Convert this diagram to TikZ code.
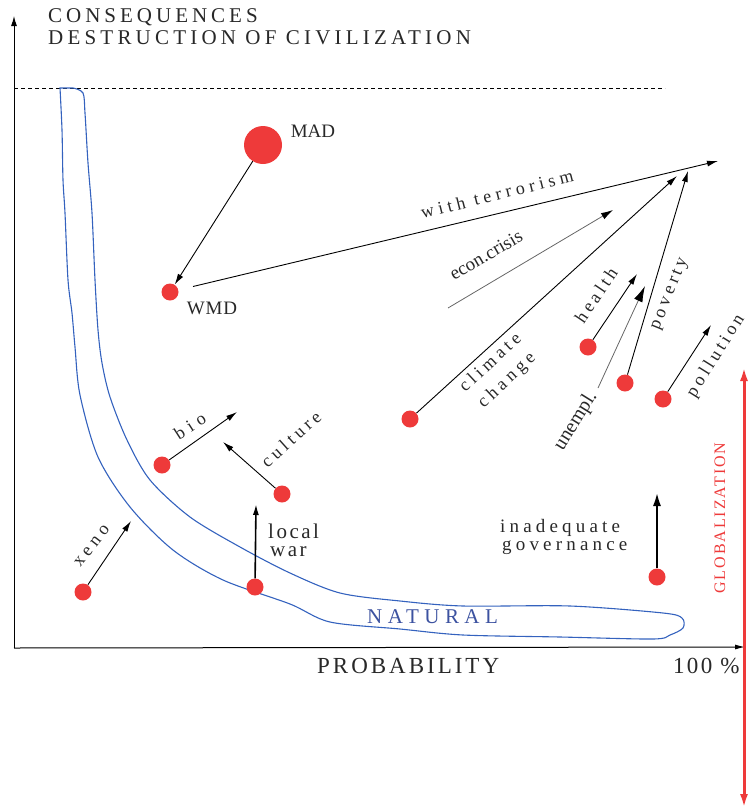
\documentclass[tikz,border=0pt]{standalone}
\usepackage{fontspec}
\setmainfont{Liberation Serif}
\usepackage{xcolor}
\usepackage{tikz}
\usetikzlibrary{arrows.meta}

\definecolor{dotred}{RGB}{238,58,58}
\definecolor{curveblue}{RGB}{52,98,190}
\definecolor{natblue}{RGB}{60,82,160}
\definecolor{inkgray}{RGB}{40,40,40}

% letter spaced text
\newcommand{\spaced}[2]{{\addfontfeature{LetterSpace=#1}#2}}

\tikzset{
    riskdot/.style={circle, fill=dotred, inner sep=0pt, minimum size=17pt},
    lbl/.style={font=\fontsize{18}{22}\selectfont, text=inkgray, inner sep=0pt},
    riskarrow/.style={-{Latex[length=11pt,width=6pt]}, line width=0.9pt},
}

\begin{document}
\begin{tikzpicture}[x=1pt, y=-1pt]
        \useasboundingbox (0,0) rectangle (750,809);

        % Axes
        \coordinate (origin) at (14,648);
        \coordinate (ytip) at (14,16);
        \coordinate (xtip) at (745,647);
        \draw[-{Latex[length=10pt,width=6pt]}, line width=1pt] (origin) -- (ytip);
        \draw[-{Latex[length=10pt,width=5pt]}, line width=1pt] (origin) -- (xtip);

        % Header
        \node[lbl, anchor=base west, font=\fontsize{21}{24}\selectfont] (conseq) at (48,22) {\spaced{19}{CONSEQUENCES}};
        \node[lbl, anchor=base west, font=\fontsize{21}{24}\selectfont] (destr) at (48,44) {\spaced{20}{DESTRUCTION OF CIVILIZATION}};

        % Upper limit
        \coordinate (limitL) at (14,88);
        \coordinate (limitR) at (665,88);
        \draw[dash pattern=on 4pt off 3pt, line width=1pt] (limitL) -- (limitR);

        % Natural band
        \draw[curveblue, line width=1.1pt] plot[smooth, tension=0.5] coordinates {
            (73,88) (83,93) (85,113) (88,163) (92,213) (95,280) (98,330) (102,363)
            (110,397) (127,440) (150,480) (190,517) (240,547) (290,573) (340,593)
            (400,601) (463,606) (570,606) (663,613) (682,618) (683,628) (670,635)
            (653,639) (560,637) (463,635) (400,629) (330,622) (290,604) (223,580)
            (173,550) (130,507) (98,457) (80,395) (75,347) (72,313) (68,280)
            (65,213) (63,180) (62,130) (60,88)} -- cycle;
        \node[lbl, text=natblue, font=\fontsize{21}{24}\selectfont, anchor=base west] (natural) at (367,623) {\spaced{26}{NATURAL}};

        % Risks
        \node[riskdot, minimum size=38pt] (mad) at (263,145) {};
        \node[riskdot] (wmd) at (170,292) {};
        \node[riskdot] (climate) at (410,419) {};
        \node[riskdot] (health) at (588,347) {};
        \node[riskdot] (poverty) at (625,383) {};
        \node[riskdot] (pollution) at (663,399) {};
        \node[riskdot] (bio) at (162,465) {};
        \node[riskdot] (culture) at (282,494) {};
        \node[riskdot] (localwar) at (255,587) {};
        \node[riskdot] (xeno) at (83,592) {};
        \node[riskdot] (governance) at (657,577) {};

        % Arrow ends
        \coordinate (terrortip) at (718,161);
        \coordinate (econstart) at (448,308);
        \coordinate (econtip) at (613,210);
        \coordinate (climatetip) at (677,176);
        \coordinate (healthtip) at (637,274);
        \coordinate (unemplstart) at (598,388);
        \coordinate (unempltip) at (645,286);
        \coordinate (povertytip) at (688,171);
        \coordinate (pollutiontip) at (711,325);
        \coordinate (biotip) at (237,412);
        \coordinate (culturetip) at (223,442);
        \coordinate (localtip) at (256,504);
        \coordinate (xenotip) at (131,521);
        \coordinate (govtip) at (657,492);

        % Arrows
        \draw[riskarrow] (mad) -- (wmd);
        \draw[riskarrow, shorten <=15pt] (wmd) -- (terrortip);
        \draw[gray!80!black, line width=0.8pt, -{Latex[length=12pt,width=7pt,color=black]}] (econstart) -- (econtip);
        \draw[riskarrow] (climate) -- (climatetip);
        \draw[riskarrow] (health) -- (healthtip);
        \draw[gray!80!black, line width=0.8pt, -{Latex[length=16pt,width=9pt,color=black]}] (unemplstart) -- (unempltip);
        \draw[riskarrow] (poverty) -- (povertytip);
        \draw[riskarrow] (pollution) -- (pollutiontip);
        \draw[riskarrow] (bio) -- (biotip);
        \draw[riskarrow] (culture) -- (culturetip);
        \draw[riskarrow, line width=1.6pt] (localwar) -- (localtip);
        \draw[riskarrow] (xeno) -- (xenotip);
        \draw[line width=2.5pt, -{Latex[length=14pt,width=8pt]}] (governance) -- (govtip);

        % Labels
        \node[lbl, font=\fontsize{19}{22}\selectfont] (madlbl) at (313,131) {MAD};
        \node[lbl, font=\fontsize{19}{22}\selectfont] (wmdlbl) at (212,308) {\spaced{5}{WMD}};
        \node[lbl, rotate=14] (terrorlbl) at (497,194) {\spaced{25}{with terrorism}};
        \node[lbl, rotate=30, font=\fontsize{19}{22}\selectfont] (econlbl) at (486,255) {econ.crisis};
        \node[lbl, rotate=43, align=center, font=\fontsize{18}{24}\selectfont] (climatelbl) at (499,372) {\spaced{23}{climate}\\\spaced{23}{change}};
        \node[lbl, rotate=56] (healthlbl) at (596,295) {\spaced{20}{health}};
        \node[lbl, rotate=68] (povertylbl) at (670,294) {\spaced{20}{poverty}};
        \node[lbl, rotate=58] (pollutionlbl) at (716,356) {\spaced{20}{pollution}};
        \node[lbl, rotate=58, font=\fontsize{20}{22}\selectfont] (unempllbl) at (576,421) {unempl.};
        \node[lbl, rotate=33] (biolbl) at (190,426) {\spaced{30}{bio}};
        \node[lbl, rotate=42] (culturelbl) at (291,439) {\spaced{22}{culture}};
        \node[lbl, rotate=52] (xenolbl) at (92,546) {\spaced{25}{xeno}};
        \node[lbl, anchor=base west, font=\fontsize{21}{22}\selectfont] (locallbl) at (268,538) {\spaced{12}{local}};
        \node[lbl, anchor=base west, font=\fontsize{21}{22}\selectfont] (warlbl) at (270,556) {\spaced{12}{war}};
        \node[lbl, anchor=base west, font=\fontsize{19}{22}\selectfont] (inadlbl) at (500,532) {\spaced{22}{inadequate}};
        \node[lbl, anchor=base west, font=\fontsize{19}{22}\selectfont] (govlbl) at (502,550) {\spaced{22}{governance}};

        % Axis labels
        \node[lbl, anchor=base west, font=\fontsize{23}{26}\selectfont] (problbl) at (317,673) {\spaced{13}{PROBABILITY}};
        \node[lbl, anchor=base west, font=\fontsize{23}{26}\selectfont] (fulllbl) at (673,673) {\spaced{10}{100 \%}};

        % Globalization
        \coordinate (globtop) at (744,367);
        \coordinate (globbot) at (744,808);
        \draw[dotred, line width=3pt, {Latex[length=14pt,width=8pt]}-{Latex[length=14pt,width=8pt]}] (globtop) -- (globbot);
        \node[lbl, rotate=90, text=dotred, font=\fontsize{16}{18}\selectfont] (globlbl) at (720,518) {\spaced{12}{GLOBALIZATION}};
\end{tikzpicture}
\end{document}
